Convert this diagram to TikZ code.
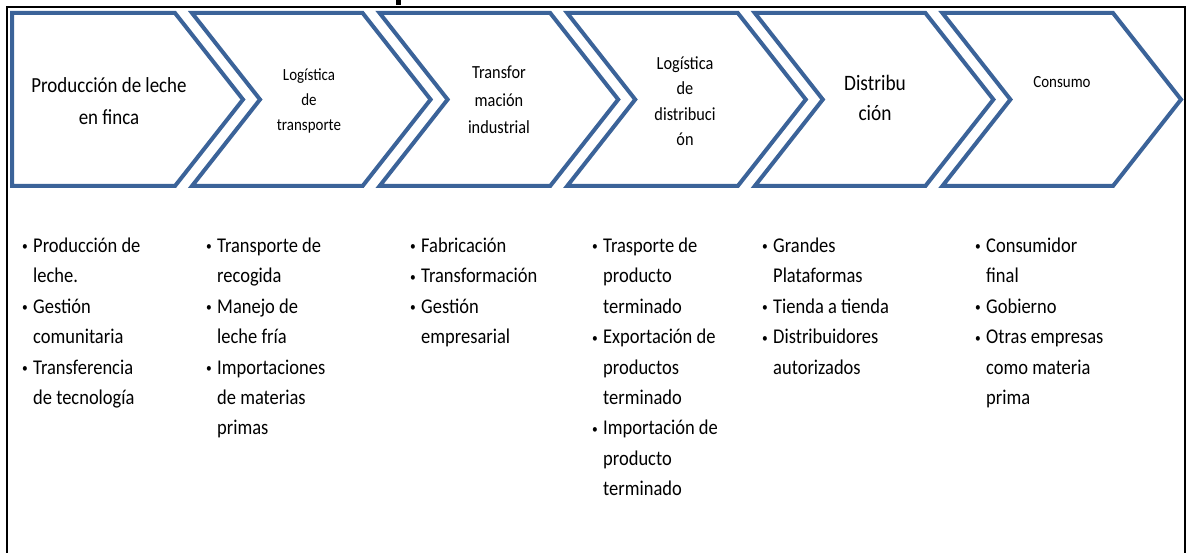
\documentclass[tikz,border=0pt]{standalone}
\usepackage{fontspec}
\setmainfont{Carlito}[FakeStretch=0.88]
\definecolor{chevblue}{RGB}{59,99,153}
\newcommand{\itm}{\strut\makebox[11pt][l]{\raisebox{1.5pt}{\fontsize{13}{13}\selectfont\textbullet}}}
\newcommand{\cnt}{\strut\hspace*{11pt}}
\tikzset{
  chev/.style={draw=chevblue, line width=4pt, fill=white, line join=miter},
  stage/.style={align=center, inner sep=0pt},
  items/.style={align=left, anchor=north west, inner sep=0pt, font=\fontsize{21}{30.4}\selectfont},
}

\begin{document}
\begin{tikzpicture}[x=1pt,y=-1pt]
\useasboundingbox (0,0) rectangle (1186,553);
% marco
\draw[line width=2.5pt] (7,560) -- (7,7) -- (1185,7) -- (1185,560);
\fill (396,0) rectangle (401,5);

% cadena de etapas
\draw[chev] (12,13) -- (175,13) -- (243,99.5) -- (175,186) -- (12,186) -- cycle;
\foreach \i in {1,...,5}{
  \pgfmathsetmacro{\xl}{192+187.6*(\i-1)}
  \pgfmathsetmacro{\xr}{175+187.6*\i}
  \draw[chev] (\xl,13) -- (\xr,13) -- (\xr+68,99.5) -- (\xr,186) -- (\xl,186) -- (\xl+68,99.5) -- cycle;
}

\node[stage, font=\fontsize{21.5}{32}\selectfont] (prod) at (109,101) {Producción de leche\\en finca};
\node[stage, font=\fontsize{17}{25}\selectfont] (logt) at (309,101) {Logística\\de\\transporte};
\node[stage, font=\fontsize{18.5}{27.5}\selectfont] (trans) at (499,100) {Transfor\\mación\\industrial};
\node[stage, font=\fontsize{18.5}{25.5}\selectfont] (logd) at (685,101) {Logística\\de\\distribuci\\ón};
\node[stage, font=\fontsize{22}{30}\selectfont] (dist) at (875,98) {Distribu\\ción};
\node[stage, font=\fontsize{17}{25}\selectfont] (cons) at (1062,82) {Consumo};

% actividades
\node[items] (aprod) at (22,231) {\itm Producción de\\\cnt leche.\\\itm Gestión\\\cnt comunitaria\\\itm Transferencia\\\cnt de tecnología};
\node[items] (alogt) at (206,231) {\itm Transporte de\\\cnt recogida\\\itm Manejo de\\\cnt leche fría\\\itm Importaciones\\\cnt de materias\\\cnt primas};
\node[items] (atrans) at (410,231) {\itm Fabricación\\\itm Transformación\\\itm Gestión\\\cnt empresarial};
\node[items] (alogd) at (592,231) {\itm Trasporte de\\\cnt producto\\\cnt terminado\\\itm Exportación de\\\cnt productos\\\cnt terminado\\\itm Importación de\\\cnt producto\\\cnt terminado};
\node[items] (adist) at (762,231) {\itm Grandes\\\cnt Plataformas\\\itm Tienda a tienda\\\itm Distribuidores\\\cnt autorizados};
\node[items] (acons) at (975,231) {\itm Consumidor\\\cnt final\\\itm Gobierno\\\itm Otras empresas\\\cnt como materia\\\cnt prima};
\end{tikzpicture}
\end{document}
